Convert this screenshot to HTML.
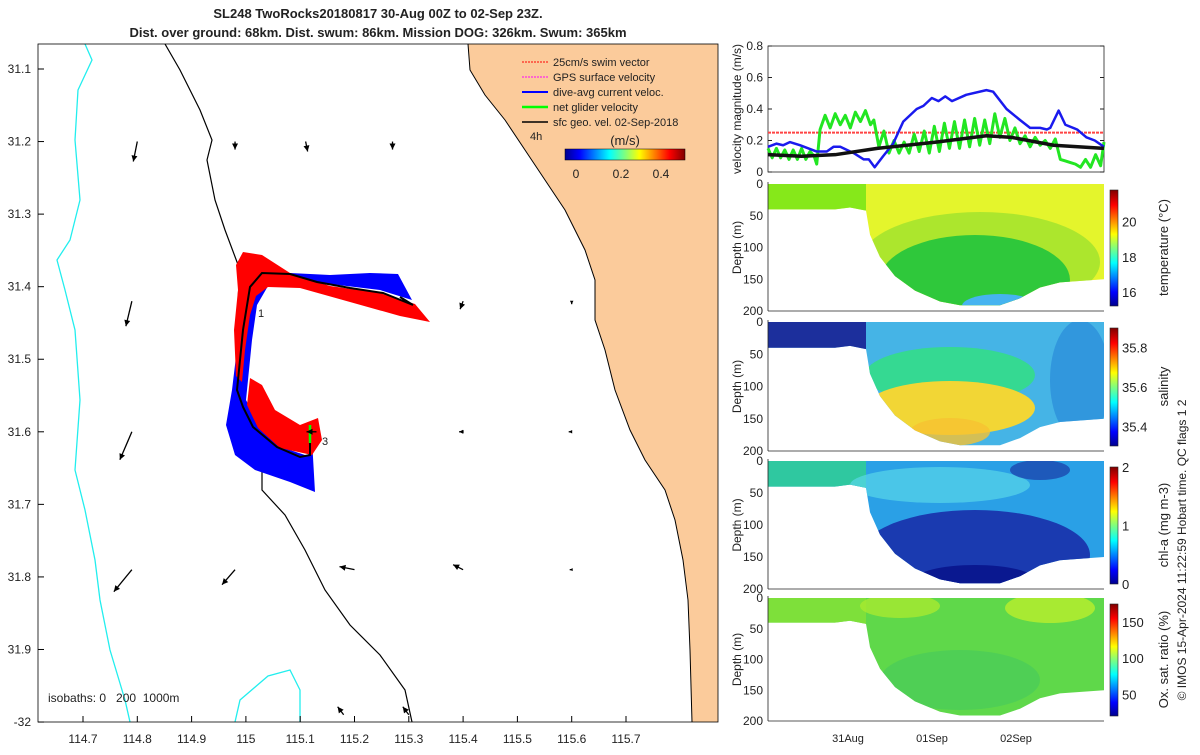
<!DOCTYPE html>
<html><head><meta charset="utf-8"><style>
body{margin:0;background:#fff;width:1200px;height:750px;overflow:hidden;font-family:"Liberation Sans",sans-serif}
svg text{font-family:"Liberation Sans",sans-serif;fill:#222}
</style></head><body>
<svg id="s" width="1200" height="750" viewBox="0 0 1200 750" xmlns="http://www.w3.org/2000/svg">
<defs>
<linearGradient id="jet" x1="0" x2="1"><stop offset="0" stop-color="#00008f"/><stop offset="0.12" stop-color="#0000ff"/><stop offset="0.37" stop-color="#00ffff"/><stop offset="0.5" stop-color="#7fff7f"/><stop offset="0.62" stop-color="#ffff00"/><stop offset="0.87" stop-color="#ff0000"/><stop offset="1" stop-color="#800000"/></linearGradient>
<linearGradient id="jetv" x1="0" y1="1" x2="0" y2="0"><stop offset="0" stop-color="#00008f"/><stop offset="0.12" stop-color="#0000ff"/><stop offset="0.37" stop-color="#00ffff"/><stop offset="0.5" stop-color="#7fff7f"/><stop offset="0.62" stop-color="#ffff00"/><stop offset="0.87" stop-color="#ff0000"/><stop offset="1" stop-color="#800000"/></linearGradient>
<clipPath id="mapclip"><rect x="38" y="44" width="680" height="678"/></clipPath>
</defs>

<text x="378" y="18" text-anchor="middle" font-size="13" font-weight="bold">SL248 TwoRocks20180817 30-Aug 00Z to 02-Sep 23Z.</text>
<text x="378" y="37" text-anchor="middle" font-size="13" font-weight="bold">Dist. over ground: 68km. Dist. swum: 86km. Mission DOG: 326km. Swum: 365km</text>

<g id="map" clip-path="url(#mapclip)">
<polygon fill="#fbcb9b" points="468,44 470,70 485,95 505,120 525,150 545,180 565,210 585,250 595,280 595,320 605,350 615,390 630,430 645,460 665,490 675,520 683,560 688,600 690,650 692,722 718,722 718,44"/>
<polyline fill="none" stroke="#000" stroke-width="1" points="468,44 470,70 485,95 505,120 525,150 545,180 565,210 585,250 595,280 595,320 605,350 615,390 630,430 645,460 665,490 675,520 683,560 688,600 690,650 692,722"/>
<polyline fill="none" stroke="#000" stroke-width="1.2" points="165,44 180,70 200,110 212,140 207,160 215,200 225,230 240,270 238,300 240,340 236,380 240,420 255,455 262,470 262,490 285,515 305,550 325,590 350,625 380,655 405,690 412,722"/>
<polyline fill="none" stroke="#2ee" stroke-width="1.3" points="85,44 92,60 78,90 75,140 80,200 70,240 57,260 65,290 75,330 80,400 75,470 85,510 95,560 100,600 110,650 125,700 130,722"/>
<polyline fill="none" stroke="#2ee" stroke-width="1.3" points="235,722 240,700 268,676 290,670 300,690 300,722"/>
<polygon fill="#0000ff" points="262,276 290,273 330,275 370,273 398,274 412,300 380,290 330,284 290,280 268,286 257,305 252,340 248,380 246,400 262,430 290,450 308,456 312,440 315,492 290,482 255,470 235,455 226,425 232,390 238,340 244,295"/>
<polygon fill="#f00" points="243,252 262,255 290,273 330,286 380,293 415,304 430,322 400,316 350,302 300,288 268,287 256,296 250,315 245,350 242,382 236,376 234,330 238,290 236,265"/>
<polygon fill="#f00" points="250,378 262,385 275,410 300,425 318,418 322,440 312,455 280,448 258,428 247,405"/>
<polyline fill="none" stroke="#000" stroke-width="2" points="400,297 413,305 383,293 350,288 317,282 290,274 262,273 250,287 243,330 237,390 243,407 253,427 277,447 300,457 310,455 310,443"/>
<line x1="310" y1="443" x2="310" y2="425" stroke="#0f0" stroke-width="2.5"/>
<text x="258" y="317" font-size="11">1</text>
<text x="322" y="445" font-size="11">3</text>
<g id="arrows"></g>
</g>
<rect x="38" y="44" width="680" height="678" fill="none" stroke="#000" stroke-width="0.8"/>
<g id="mapticks"></g>

<g font-size="11">
<text x="553" y="66" font-size="11">25cm/s swim vector</text>
<text x="553" y="81" font-size="11">GPS surface velocity</text>
<text x="553" y="96" font-size="11">dive-avg current veloc.</text>
<text x="553" y="111" font-size="11">net glider velocity</text>
<text x="553" y="126" font-size="11">sfc geo. vel. 02-Sep-2018</text>
<line x1="522" y1="62" x2="548" y2="62" stroke="#f00" stroke-dasharray="2,1"/>
<line x1="522" y1="77" x2="548" y2="77" stroke="#f0f" stroke-dasharray="2,1"/>
<line x1="522" y1="92" x2="548" y2="92" stroke="#00f" stroke-width="2"/>
<line x1="522" y1="107" x2="548" y2="107" stroke="#0f0" stroke-width="2.5"/>
<line x1="522" y1="122" x2="548" y2="122" stroke="#000" stroke-width="1.5"/>
<text x="530" y="140" font-size="11">4h</text>
<text x="625" y="145" text-anchor="middle" font-size="13">(m/s)</text>
<rect x="565" y="149" width="120" height="11" fill="url(#jet)" stroke="#000" stroke-width="0.5"/>
<text x="576" y="178" text-anchor="middle" font-size="12">0</text>
<text x="621" y="178" text-anchor="middle" font-size="12">0.2</text>
<text x="661" y="178" text-anchor="middle" font-size="12">0.4</text>
</g>
<text x="48" y="702" font-size="12" style="white-space:pre">isobaths: 0   200  1000m</text>

<g id="vel"></g>
<g id="sections"></g>
<text transform="translate(1186,550) rotate(-90)" text-anchor="middle" font-size="12">© IMOS 15-Apr-2024 11:22:59 Hobart time. QC flags 1  2</text>
</svg>
<script>
const NS="http://www.w3.org/2000/svg";
function mk(t,a,p){const e=document.createElementNS(NS,t);for(const k in a)e.setAttribute(k,a[k]);(p||document.getElementById('s')).appendChild(e);return e;}
const lonTicks=[114.7,114.8,114.9,115,115.1,115.2,115.3,115.4,115.5,115.6,115.7];
const latTicks=[31.1,31.2,31.3,31.4,31.5,31.6,31.7,31.8,31.9,32];
const lonX=v=>83+(v-114.7)*543;
const latY=v=>69+(v-31.1)*725.6;
const mt=document.getElementById('mapticks');
lonTicks.forEach(v=>{const x=lonX(v);
 mk('line',{x1:x,y1:722,x2:x,y2:716,stroke:'#000'},mt);
 const t=mk('text',{x:x,y:743,'text-anchor':'middle','font-size':12},mt);t.textContent=String(v);
 
 });
latTicks.forEach(v=>{const y=latY(v);
 mk('line',{x1:38,y1:y,x2:44,y2:y,stroke:'#000'},mt);
 const t=mk('text',{x:31,y:y+4,'text-anchor':'end','font-size':12},mt);t.textContent=v===32?'-32':String(v);
 
 });
const arrLon=[114.8,114.98,115.11,115.27,115.4,115.6,114.79,115.4,114.79,115.13,115.4,115.6,114.79,114.98,115.2,115.4,115.6,115.18,115.3];
const arrLat=[31.2,31.2,31.2,31.2,31.42,31.42,31.42,31.6,31.6,31.6,31.6,31.6,31.79,31.79,31.79,31.79,31.79,31.99,31.99];
const arrU=[-4,0,2,0,-3,0,-6,-3,-12,-10,-4,-3,-18,-13,-15,-10,-2,-6,-6];
const arrV=[20,8,10,8,8,3,25,0,28,0,0,0,22,15,-3,-5,0,-8,-8];
const ag=document.getElementById('arrows');
arrLon.forEach((lo,i)=>{const x=lonX(lo),y=latY(arrLat[i]),u=arrU[i],v=arrV[i];
 const L=Math.hypot(u,v)||1,ux=u/L,uy=v/L,h=Math.min(6,L*0.5+2);
 const l=mk('line',{x1:x,y1:y,x2:x+u,y2:y+v,stroke:'#000','stroke-width':1.3},ag);
 
 
 const ex=x+u,ey=y+v;
 mk('polygon',{points:`${ex},${ey} ${ex-ux*h-uy*h*0.5},${ey-uy*h+ux*h*0.5} ${ex-ux*h+uy*h*0.5},${ey-uy*h-ux*h*0.5}`,fill:'#000'},ag);});

const VX0=768,VX1=1104,VY0=172,VY1=46;
const vx=d=>VX0+d*(VX1-VX0)/4, vy=v=>VY0-v*(VY0-VY1)/0.8;
const curT=[0,0.1,0.18,0.26,0.38,0.58,0.7,0.78,0.86,1.02,1.14,1.2,1.27,1.37,1.49,1.61,1.77,1.85,1.95,2.03,2.11,2.19,2.36,2.6,2.68,2.84,3.0,3.12,3.24,3.32,3.36,3.46,3.54,3.68,3.79,3.89,4.0];
const curV=[0.16,0.18,0.17,0.19,0.17,0.13,0.13,0.16,0.16,0.12,0.08,0.08,0.03,0.1,0.18,0.32,0.4,0.42,0.47,0.45,0.48,0.45,0.49,0.52,0.51,0.4,0.33,0.28,0.28,0.27,0.28,0.39,0.3,0.27,0.22,0.2,0.16];
const netT=[0,0.05,0.1,0.15,0.2,0.25,0.3,0.35,0.4,0.45,0.5,0.55,0.58,0.62,0.68,0.74,0.8,0.86,0.92,0.98,1.04,1.1,1.16,1.22,1.26,1.32,1.38,1.44,1.5,1.56,1.62,1.68,1.74,1.8,1.86,1.92,1.98,2.04,2.1,2.16,2.22,2.28,2.34,2.4,2.46,2.52,2.58,2.64,2.7,2.76,2.82,2.88,2.94,3.0,3.06,3.12,3.18,3.24,3.3,3.36,3.42,3.48,3.54,3.6,3.66,3.72,3.78,3.84,3.9,3.96,4.0];
const netV=[0.15,0.09,0.15,0.09,0.14,0.08,0.14,0.08,0.15,0.08,0.13,0.1,0.05,0.27,0.36,0.28,0.37,0.3,0.36,0.28,0.38,0.32,0.39,0.3,0.33,0.16,0.26,0.12,0.2,0.12,0.19,0.12,0.24,0.13,0.26,0.12,0.29,0.13,0.31,0.15,0.32,0.15,0.33,0.16,0.34,0.17,0.33,0.18,0.37,0.22,0.34,0.2,0.28,0.18,0.23,0.16,0.22,0.17,0.2,0.15,0.21,0.08,0.07,0.06,0.05,0.03,0.08,0.03,0.11,0.04,0.19];
const geoT=[0,0.4,0.8,1.3,2.0,2.6,2.9,3.4,4.0];
const geoV=[0.11,0.1,0.11,0.15,0.19,0.23,0.22,0.17,0.15];
const swimT=[0,4];
const swimV=[0.25,0.25];
const velTicks=[0,0.2,0.4,0.6,0.8];
const vg=document.getElementById('vel');
mk('rect',{x:VX0,y:VY1,width:VX1-VX0,height:VY0-VY1,fill:'#fff',stroke:'#222','stroke-width':0.8},vg);
velTicks.forEach(v=>{const y=vy(v);mk('line',{x1:VX0,y1:y,x2:VX0+4,y2:y,stroke:'#222'},vg);mk('line',{x1:VX1,y1:y,x2:VX1-4,y2:y,stroke:'#222'},vg);
 const t=mk('text',{x:VX0-5,y:y+4,'text-anchor':'end','font-size':12},vg);t.textContent=String(v);
 
 });
const yl=mk('text',{transform:`translate(741,${(VY0+VY1)/2}) rotate(-90)`,'text-anchor':'middle','font-size':12},vg);yl.textContent='velocity magnitude (m/s)';


function series(T,V,col,w,name,dash){const p=mk('polyline',{points:T.map((t,i)=>vx(t)+','+vy(V[i])).join(' '),fill:'none',stroke:col,'stroke-width':w,'stroke-linejoin':'round'},vg);if(dash)p.setAttribute('stroke-dasharray',dash);
 
 }
series(swimT,swimV,'#f44',2,'swim-speed-line','3,1');
series(netT,netV,'#22e622',3,'net-velocity-line');
series(curT,curV,'#1a1aee',2.5,'current-velocity-line');
series(geoT,geoV,'#111',3.5,'geo-velocity-line');

const sg=document.getElementById('sections');
const dates=['31Aug','01Sep','02Sep'];
const dateDay=[1,2,3];
const prof=[[768,40],[835,40],[850,37],[866,42],[870,80],[880,115],[895,145],[915,168],[940,185],[960,191],[1000,191],[1020,180],[1040,163],[1060,155],[1104,150]];
const panels=[
 {y0:184,y1:311,name:'temperature',label:'temperature (°C)',ticks:[16,18,20],tmin:15.2,tmax:21.8,base:'#e4f52c',left:'#86e81a',blobs:[['#9ee22e',980,262,120,50,0.8],['#28c63c',975,280,95,45,0.95],['#46b4f0',1000,306,38,12,1]]},
 {y0:322,y1:451,name:'salinity',label:'salinity',ticks:[35.4,35.6,35.8],tmin:35.3,tmax:35.9,base:'#45b4e6',left:'#1c2f9c',blobs:[['#2a8ad8',1080,380,30,60,0.7],['#33dd88',950,375,85,28,0.9],['#f2d635',950,408,85,27,1],['#f6c232',950,432,40,14,0.8]]},
 {y0:461,y1:589,name:'chl-a',label:'chl-a (mg m-3)',ticks:[0,1,2],tmin:0,tmax:2,base:'#2aa0e6',left:'#2fc8a0',blobs:[['#1a3ab0',975,555,115,45,1],['#0a1890',975,580,60,15,1],['#58d6e8',940,485,90,18,0.7],['#1a3aa6',1040,470,30,10,0.7]]},
 {y0:598,y1:721,name:'oxygen-saturation',label:'Ox. sat. ratio (%)',ticks:[50,100,150],tmin:20,tmax:175,base:'#5fd84a',left:'#7ee03a',blobs:[['#b0ec30',1050,608,45,15,0.9],['#a8ea30',900,606,40,12,0.8],['#48cc5a',960,680,80,30,0.7]]}
];
panels.forEach((P,pi)=>{
 const g=mk('g',{},sg);
 
 
 const dy=d=>P.y0+d*(P.y1-P.y0)/200;
 const cid='clip'+pi;const cp=mk('clipPath',{id:cid},g);
 const pts=[[768,0],[1104,0]].concat(prof.slice().reverse());
 mk('polygon',{points:pts.map(p=>p[0]+','+dy(p[1])).join(' ')},cp);
 const inner=mk('g',{'clip-path':`url(#${cid})`},g);
 mk('rect',{x:768,y:P.y0,width:336,height:P.y1-P.y0,fill:P.base},inner);
 mk('rect',{x:768,y:P.y0,width:98,height:dy(42)-P.y0,fill:P.left},inner);
 P.blobs.forEach(b=>mk('ellipse',{cx:b[1],cy:b[2],rx:b[3],ry:b[4],fill:b[0],opacity:b[5]},inner));
 mk('line',{x1:768,y1:P.y0-2,x2:768,y2:P.y1,stroke:'#222','stroke-width':0.8},g);
 mk('line',{x1:768,y1:P.y1,x2:1104,y2:P.y1,stroke:'#222','stroke-width':0.8},g);
 [0,50,100,150,200].forEach(d=>{const t=mk('text',{x:763,y:dy(d)+4,'text-anchor':'end','font-size':12},g);t.textContent=String(d);
  
  });
 const yt=mk('text',{transform:`translate(741,${(P.y0+P.y1)/2}) rotate(-90)`,'text-anchor':'middle','font-size':12},g);yt.textContent='Depth (m)';
 
 
 const cy0=P.y0+6,cy1=P.y1-5;
 mk('rect',{x:1110,y:cy0,width:8,height:cy1-cy0,fill:'url(#jetv)',stroke:'#222','stroke-width':0.6},g);
 P.ticks.forEach(v=>{const y=cy1-(v-P.tmin)/(P.tmax-P.tmin)*(cy1-cy0);
  const t=mk('text',{x:1122,y:y+5,'font-size':13},g);t.textContent=String(v);
  
  });
 const ct=mk('text',{transform:`translate(1168,${(P.y0+P.y1)/2}) rotate(-90)`,'text-anchor':'middle','font-size':13},g);ct.textContent=P.label;
 
 
});
dateDay.forEach((d,i)=>{const t=mk('text',{x:vx(d)-4,y:742,'text-anchor':'middle','font-size':11},sg);t.textContent=dates[i];
 
 });
</script>
</body></html>
